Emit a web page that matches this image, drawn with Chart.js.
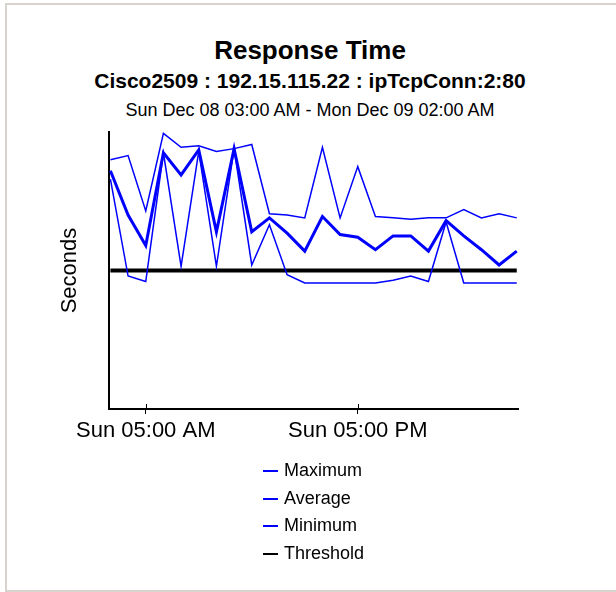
<!DOCTYPE html>
<html>
<head>
<meta charset="utf-8">
<script src="https://cdn.jsdelivr.net/npm/chart.js@4.4.0/dist/chart.umd.min.js"></script>
<style>
  body { margin: 0; background: #fff; font-family: "Liberation Sans", Arial, sans-serif; }
  #wrap { position: relative; width: 616px; height: 592px; overflow: hidden; }
  #frame { position: absolute; left: 5px; top: 3px; width: 700px; height: 585px; border: 2px solid #d7d4ce; }
  .hdr { position: absolute; left: 0; width: 620px; text-align: center; color: #000; white-space: nowrap; }
  #t1 { top: 37px; font-size: 26px; line-height: 26px; font-weight: bold; }
  #t2 { top: 70px; font-size: 21px; line-height: 21px; font-weight: bold; }
  #t3 { top: 101px; font-size: 18px; line-height: 18px; }
  #chartBox { position: absolute; left: 0; top: 0; width: 616px; height: 592px; }
  #legend { position: absolute; left: 263px; top: 457px; font-size: 18px; color: #000; }
  .item { height: 27.5px; line-height: 27.5px; white-space: nowrap; }
  .swatch { display: inline-block; width: 15px; height: 2px; vertical-align: middle; margin-right: 6px; }
</style>
</head>
<body>
<div id="wrap">
  <div id="frame"></div>
  <div class="hdr" id="t1">Response Time</div>
  <div class="hdr" id="t2">Cisco2509 : 192.15.115.22 : ipTcpConn:2:80</div>
  <div class="hdr" id="t3">Sun Dec 08 03:00 AM - Mon Dec 09 02:00 AM</div>
  <div id="chartBox"><canvas id="myChart"></canvas></div>
  <div id="legend"></div>
</div>
<script>
// horas de Sun 03:00 AM a Mon 02:00 AM
const hourLabels = ['03 AM', '04 AM', '05 AM', '06 AM', '07 AM', '08 AM', '09 AM', '10 AM',
    '11 AM', '12 PM', '01 PM', '02 PM', '03 PM', '04 PM', '05 PM', '06 PM',
    '07 PM', '08 PM', '09 PM', '10 PM', '11 PM', '12 AM', '01 AM', '02 AM'];
const maximum = [1.80, 1.83, 1.43, 1.99, 1.89, 1.90, 1.86, 1.88, 1.91, 1.41, 1.40, 1.38,
    1.89, 1.38, 1.75, 1.39, 1.38, 1.37, 1.38, 1.38, 1.44, 1.38, 1.41, 1.38];
const average = [1.72, 1.40, 1.18, 1.85, 1.69, 1.87, 1.28, 1.88, 1.28, 1.38, 1.27, 1.14,
    1.39, 1.26, 1.24, 1.15, 1.25, 1.25, 1.14, 1.36, 1.25, 1.15, 1.04, 1.14];
const minimum = [1.66, 0.96, 0.92, 1.85, 1.03, 1.86, 1.03, 1.88, 1.04, 1.33, 0.97, 0.91,
    0.91, 0.91, 0.91, 0.91, 0.93, 0.96, 0.92, 1.35, 0.91, 0.91, 0.91, 0.91];
const threshold = 1.0;
const tickValues = [2, 14];
const tickLabels = ['Sun 05:00 AM', 'Sun 05:00 PM'];

function pontos(valores) {
    return valores.map((v, i) => ({ x: i, y: v }));
}

// marcas do eixo x que cruzam a linha do eixo (parte de dentro)
const marcasInternas = {
    id: 'marcasInternas',
    afterDraw(chart) {
        const escala = chart.scales.x;
        const c = chart.ctx;
        c.save();
        c.strokeStyle = '#000';
        c.lineWidth = 1;
        escala.ticks.forEach(function (t) {
            const px = Math.round(escala.getPixelForValue(t.value)) + 0.5;
            c.beginPath();
            c.moveTo(px, escala.top - 5);
            c.lineTo(px, escala.top);
            c.stroke();
        });
        c.restore();
    },
};

const ctx = document.getElementById('myChart');
const myChart = new Chart(ctx, {
    type: 'line',
    data: {
        datasets: [
            { label: 'Maximum', data: pontos(maximum), borderColor: '#0000ff', borderWidth: 1.5 },
            { label: 'Average', data: pontos(average), borderColor: '#0000ff', borderWidth: 3 },
            { label: 'Minimum', data: pontos(minimum), borderColor: '#0000ff', borderWidth: 1.5 },
            { label: 'Threshold', data: pontos(hourLabels.map(() => threshold)), borderColor: '#000000', borderWidth: 4 },
        ],
    },
    options: {
        responsive: true,
        maintainAspectRatio: false,
        animation: false,
        events: [],
        elements: { point: { radius: 0 }, line: { tension: 0 } },
        layout: { padding: { left: 0, top: 132, right: 98, bottom: 143 } },
        plugins: { legend: { display: false }, tooltip: { enabled: false } },
        scales: {
            x: {
                type: 'linear',
                min: -0.08,
                max: 23.07,
                afterBuildTicks: (scale) => { scale.ticks = tickValues.map(v => ({ value: v })); },
                afterFit: (scale) => { scale.height = 40; },
                ticks: {
                    autoSkip: false,
                    maxRotation: 0,
                    padding: 4,
                    color: '#000',
                    font: { family: '"Liberation Sans", Arial, sans-serif', size: 22 },
                    callback: (value) => tickLabels[tickValues.indexOf(value)],
                },
                grid: { drawOnChartArea: false, tickLength: 5, color: '#000', lineWidth: 1 },
                border: { display: true, color: '#000', width: 2 },
            },
            y: {
                min: 0,
                max: 2,
                afterFit: (scale) => { scale.width = 109; },
                ticks: { display: false },
                grid: { display: false },
                border: { display: true, color: '#000', width: 2 },
                title: {
                    display: true,
                    text: 'Seconds',
                    color: '#000',
                    font: { family: '"Liberation Sans", Arial, sans-serif', size: 22 },
                    padding: { top: 57, bottom: 0 },
                },
            },
        },
    },
    plugins: [marcasInternas],
});

// legenda em HTML, uma linha por série
const legenda = document.getElementById('legend');
myChart.data.datasets.forEach(function (ds) {
    const linha = document.createElement('div');
    linha.className = 'item';
    const amostra = document.createElement('span');
    amostra.className = 'swatch';
    amostra.style.background = ds.borderColor;
    linha.appendChild(amostra);
    linha.appendChild(document.createTextNode(ds.label));
    legenda.appendChild(linha);
});
</script>
</body>
</html>
